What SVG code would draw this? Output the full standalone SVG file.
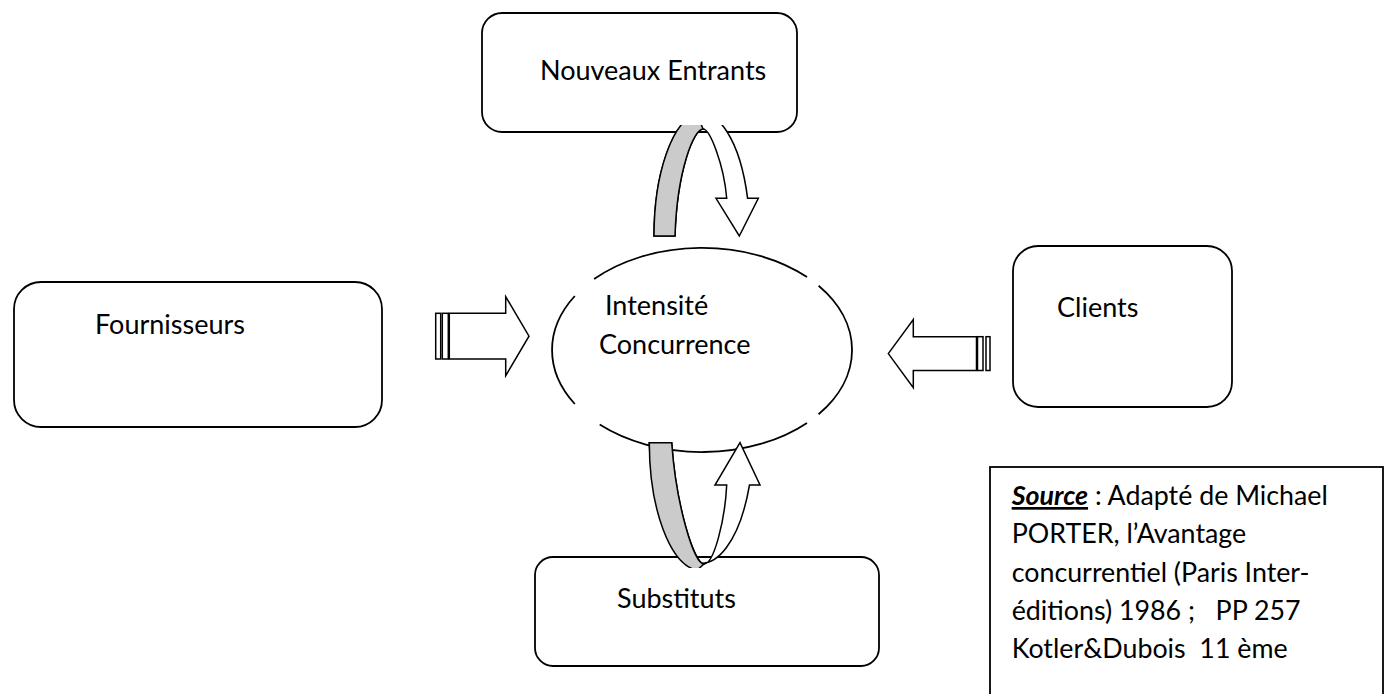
<svg xmlns="http://www.w3.org/2000/svg" width="1386" height="694" viewBox="0 0 1386 694">
<style>
.box{fill:#fff;stroke:#000;stroke-width:1.8}
.lbl{font-family:Lato,"Liberation Sans",sans-serif;font-size:27px;fill:#000}
.src{font-family:Lato,"Liberation Sans",sans-serif;font-size:26.8px;fill:#000}
.ell{fill:none;stroke:#000;stroke-width:1.8}
.arr{fill:#fff;stroke:#000;stroke-width:1.5;stroke-linejoin:miter}
.band{fill:#cbcbcb;stroke:#000;stroke-width:1.5}
</style>
<defs>
<clipPath id="clipTop"><rect x="600" y="125" width="200" height="150"/></clipPath>
<clipPath id="clipBot"><rect x="600" y="420" width="200" height="148"/></clipPath>
</defs>
<rect width="1386" height="694" fill="#fff"/>
<g id="nouveaux-entrants">
<rect class="box" x="482" y="13" width="315" height="119" rx="20"/>
<text class="lbl" x="540" y="80">Nouveaux Entrants</text>
</g>
<g id="fournisseurs">
<rect class="box" x="14" y="282" width="368" height="145" rx="27"/>
<text class="lbl" x="95" y="334" font-size="28">Fournisseurs</text>
</g>
<g id="clients">
<rect class="box" x="1013" y="246" width="219" height="161" rx="25"/>
<text class="lbl" x="1057" y="317" font-size="25.5">Clients</text>
</g>
<g id="substituts">
<rect class="box" x="535" y="557" width="344" height="109" rx="18"/>
<text class="lbl" x="617" y="608">Substituts</text>
</g>
<g id="intensite-concurrence">
<path class="ell" d="M594.1,279.1 A150,102 0 0 1 807,277.1"/>
<path class="ell" d="M818.6,285.8 A150,102 0 0 1 818.6,414.2"/>
<path class="ell" d="M807,422.9 A150,102 0 0 1 599.7,424.6"/>
<path class="ell" d="M574.8,404 A150,102 0 0 1 574.8,296"/>
<text class="lbl" x="605" y="315">Intensité</text>
<text class="lbl" x="599" y="354" font-size="28">Concurrence</text>
</g>
<g id="source">
<rect x="990" y="467" width="393" height="240" fill="#fff" stroke="#000" stroke-width="1.8"/>
<text class="src" x="1011.7" y="505" xml:space="preserve"><tspan font-weight="bold" font-style="italic" text-decoration="underline">Source</tspan> : Adapté de Michael</text>
<text class="src" x="1011.7" y="543.3">PORTER, l’Avantage</text>
<text class="src" x="1011.7" y="581.7">concurrentiel (Paris Inter-</text>
<text class="src" x="1011.7" y="620" xml:space="preserve">éditions) 1986 ;   PP 257</text>
<text class="src" x="1011.7" y="658.3" xml:space="preserve">Kotler&amp;Dubois  11 ème</text>
</g>
<g id="connectors">
<g id="arrow-fournisseurs">
<rect class="arr" x="435.7" y="313.3" width="5" height="45.7"/>
<rect class="arr" x="442.3" y="313.3" width="6" height="45.7"/>
<path class="arr" d="M449.3,313.3 L505.7,313.3 L505.7,296.7 L529,336.2 L505.7,375.7 L505.7,359 L449.3,359 Z"/>
</g>
<g id="arrow-clients">
<rect class="arr" x="977.5" y="336.7" width="5.5" height="33.8"/>
<rect class="arr" x="986" y="336.7" width="4" height="33.8"/>
<path class="arr" d="M888.3,353.6 L913.3,319.5 L913.3,336.7 L976.5,336.7 L976.5,370.5 L913.3,370.5 L913.3,387.7 Z"/>
</g>
<g id="arrow-nouveaux" clip-path="url(#clipTop)">
<path class="arr" d="M654,236 A48,123 0 0 1 747.6,198.3 L758.3,198.3 L739.3,236 L716,198.3 L726.7,198.3 C724,165 710,129 703,129 C694,129 677,170 675,236 Z"/>
<path class="band" d="M654,236 A48,123 0 0 1 697,113.7 L703,129 C694,129 677,170 675,236 Z"/>
</g>
<g id="arrow-substituts" clip-path="url(#clipBot)">
<path class="arr" d="M649.3,442.7 A52.2,128 0 0 0 749.5,485 L760,485 L740,442.7 L715,485 L726.7,485 C725,520 714,564 704,564 C694,564 676,505 671.7,442.7 Z"/>
<path class="band" d="M649.3,442.7 A52.2,128 0 0 0 697,570.2 L704,564 C694,564 676,505 671.7,442.7 Z"/>
</g>
</g>
</svg>
